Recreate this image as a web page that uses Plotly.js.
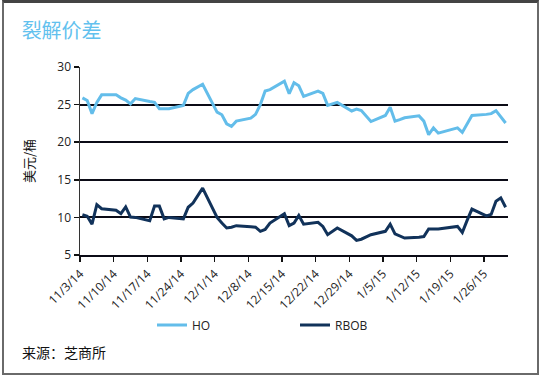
<!DOCTYPE html>
<html>
<head>
<meta charset="utf-8">
<script src="https://cdn.plot.ly/plotly-3.0.1.min.js"></script>
<style>
  html, body { margin: 0; padding: 0; background: #fff; }
  #chart { width: 541px; height: 377px; position: absolute; left: 0; top: 0; }
  #frame { position: absolute; left: 2px; top: 0px; width: 533px; height: 370px;
           border: 2px solid #6a6a6a; border-top: 3px solid #444; pointer-events: none; }
</style>
</head>
<body>
<div id="chart"></div>
<div id="frame"></div>
<script>
// Trading days
const dates = [
  '2014-11-03','2014-11-04','2014-11-05','2014-11-06','2014-11-07',
  '2014-11-10','2014-11-11','2014-11-12','2014-11-13','2014-11-14',
  '2014-11-17','2014-11-18','2014-11-19','2014-11-20','2014-11-21',
  '2014-11-24','2014-11-25','2014-11-26','2014-11-28',
  '2014-12-01','2014-12-02','2014-12-03','2014-12-04','2014-12-05',
  '2014-12-08','2014-12-09','2014-12-10','2014-12-11','2014-12-12',
  '2014-12-15','2014-12-16','2014-12-17','2014-12-18','2014-12-19',
  '2014-12-22','2014-12-23','2014-12-24','2014-12-26',
  '2014-12-29','2014-12-30','2014-12-31','2015-01-02',
  '2015-01-05','2015-01-06','2015-01-07','2015-01-08','2015-01-09',
  '2015-01-12','2015-01-13','2015-01-14','2015-01-15','2015-01-16',
  '2015-01-20','2015-01-21','2015-01-22','2015-01-23',
  '2015-01-26','2015-01-27','2015-01-28','2015-01-29','2015-01-30'
];

// Heating oil crack spread (USD/bbl)
const hoValues = [
  25.9, 25.55, 23.8, 25.3, 26.3,
  26.3, 25.9, 25.6, 25.1, 25.8,
  25.4, 25.3, 24.45, 24.4, 24.45,
  24.9, 26.5, 27.0, 27.7,
  24.0, 23.65, 22.45, 22.1, 22.8,
  23.2, 23.7, 25.0, 26.8, 27.0,
  28.1, 26.45, 27.9, 27.5, 26.1,
  26.8, 26.5, 24.9, 25.3,
  24.15, 24.4, 24.2, 22.75,
  23.55, 24.65, 22.8, 23.0, 23.25,
  23.5, 22.8, 21.0, 21.9, 21.2,
  21.9, 21.3, 22.5, 23.55,
  23.7, 23.8, 24.2, 23.3, 22.55
];

// RBOB crack spread (USD/bbl)
const rbobValues = [
  10.35, 10.15, 9.1, 11.7, 11.15,
  10.95, 10.5, 11.4, 10.05, 10.0,
  9.55, 11.5, 11.5, 9.8, 10.0,
  9.8, 11.35, 11.9, 13.9,
  10.0, 9.25, 8.6, 8.7, 8.9,
  8.75, 8.7, 8.15, 8.4, 9.25,
  10.5, 8.9, 9.25, 10.25, 9.1,
  9.35, 8.8, 7.7, 8.6,
  7.55, 6.95, 7.1, 7.7,
  8.15, 9.1, 7.8, 7.5, 7.25,
  7.35, 7.45, 8.45, 8.4, 8.45,
  8.8, 8.0, 9.6, 11.1,
  10.2, 10.4, 12.15, 12.6, 11.35
];

const seriesNames = ['HO', 'RBOB'];
const titleText = '裂解价差';
const yTitleText = '美元/桶';
const sourceText = '来源：芝商所';

// points sit in the middle of each day's slot (date axis, between tick marks)
const xMid = dates.map(d => d + ' 12:00');

const traces = [
  { x: xMid, y: hoValues, name: seriesNames[0], type: 'scatter', mode: 'lines',
    line: { color: '#63bdea', width: 3 } },
  { x: xMid, y: rbobValues, name: seriesNames[1], type: 'scatter', mode: 'lines',
    line: { color: '#11325a', width: 3 } }
];

const tickFont = { family: '"Open Sans", "Noto Sans", sans-serif', size: 12, color: '#222' };
const cjk = '"Noto Sans CJK SC", "Noto Sans", sans-serif';

const layout = {
  width: 541, height: 377,
  margin: { l: 80, r: 33, t: 67, b: 122 },
  paper_bgcolor: '#fff', plot_bgcolor: '#fff',
  showlegend: true,
  title: { text: titleText, xref: 'container', yref: 'container', x: 0.04, xanchor: 'left',
           y: 1 - 31/377, yanchor: 'middle',
           font: { family: cjk, size: 20, color: '#62c1ee' } },
  xaxis: {
    type: 'date', range: ['2014-11-03', '2015-01-31'],
    tick0: '2014-11-03', dtick: 7 * 86400000, tickformat: '%-m/%-d/%y',
    tickangle: -45, ticks: 'outside', ticklen: 5, tickwidth: 1.5, tickcolor: '#111',
    showgrid: false, showline: true, linecolor: '#0b0b16', linewidth: 2,
    tickfont: tickFont, zeroline: false
  },
  yaxis: {
    range: [5, 30], dtick: 5, tick0: 5,
    ticks: 'outside', ticklen: 5, tickwidth: 1.5, tickcolor: '#111',
    showgrid: true, gridcolor: '#0b0b16', gridwidth: 2,
    showline: true, linecolor: '#333', linewidth: 1.5,
    tickfont: tickFont, zeroline: false
  },
  legend: {
    orientation: 'h', x: (152 - 80) / 428, xanchor: 'left', y: (255 - 325) / 188, yanchor: 'middle',
    entrywidth: 98, entrywidthmode: 'pixels',
    font: { family: '"Open Sans", "Noto Sans", sans-serif', size: 12, color: '#222' },
    bgcolor: 'rgba(0,0,0,0)'
  },
  annotations: [
    { text: yTitleText, xref: 'paper', yref: 'paper', x: (28 - 80) / 428, y: 0.5,
      xanchor: 'center', yanchor: 'middle', textangle: -90, showarrow: false,
      font: { family: cjk, size: 13, color: '#111' } },
    { text: sourceText, xref: 'paper', yref: 'paper', x: (20 - 80) / 428, y: (255 - 352) / 188,
      xanchor: 'left', yanchor: 'middle', showarrow: false,
      font: { family: cjk, size: 14, color: '#111' } }
  ]
};

Plotly.newPlot('chart', traces, layout, { displayModeBar: false, staticPlot: true });
</script>
</body>
</html>
